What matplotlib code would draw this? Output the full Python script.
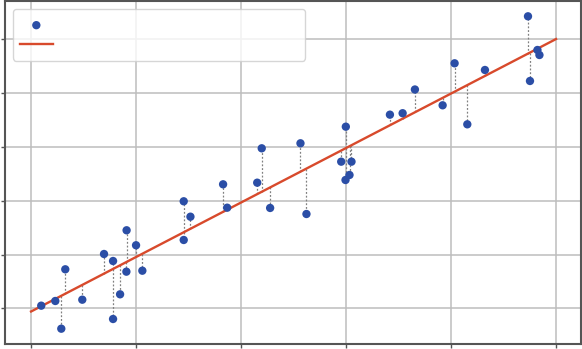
import matplotlib
matplotlib.use("Agg")
import matplotlib.pyplot as plt
import numpy as np

# data
x_vals = [0.097, 0.231, 0.288, 0.326, 0.488, 0.695, 0.781, 0.781, 0.848, 0.908,
          0.910, 1.000, 1.060, 1.454, 1.454, 1.518, 1.829, 1.868, 2.154, 2.197,
          2.277, 2.566, 2.623, 2.954, 2.998, 2.995, 3.033, 3.052, 3.418, 3.539,
          3.656, 3.920, 4.034, 4.155, 4.323, 4.733, 4.752, 4.823, 4.842]
y_vals = [0.052, 0.139, -0.375, 0.727, 0.163, 1.011, 0.881, -0.195, 0.263, 0.683,
          1.451, 1.173, 0.701, 1.989, 1.271, 1.703, 2.304, 1.870, 2.334, 2.972,
          1.865, 3.065, 1.753, 2.724, 3.373, 2.384, 2.477, 2.724, 3.596, 3.623,
          4.063, 3.770, 4.549, 3.417, 4.425, 5.421, 4.221, 4.796, 4.703]
fit_intercept = -0.056
fit_slope = 1.011
line_x = [0.0, 5.0]
tick_vals = [0, 1, 2, 3, 4, 5]

W, H = 582, 349
fig = plt.figure(figsize=(W / 100, H / 100), dpi=100)
ax = fig.add_axes([4.7 / W, 1 - 344 / H, (580.7 - 4.7) / W, (344 - 1) / H])

xv = np.array(x_vals)
yv = np.array(y_vals)
fitted = fit_intercept + fit_slope * xv

ax.vlines(xv, fitted, yv, colors="#808080", linestyles=(0, (1.5, 1.5)), linewidth=0.9, zorder=2)
lx = np.array(line_x)
ax.plot(lx, fit_intercept + fit_slope * lx, color="#d84a2c", linewidth=1.7, zorder=3, label=" ")
ax.scatter(xv, yv, s=36, color="#2b4ea6", zorder=4, label=" ", edgecolors="none")

ax.set_xlim(-0.251, 5.235)
ax.set_ylim(-0.659, 5.705)
ax.set_xticks(tick_vals)
ax.set_yticks(tick_vals)
ax.tick_params(labelleft=False, labelbottom=False, length=3, width=1, color="#555555")
ax.grid(True, color="#bdbdbd", linewidth=1.1)
ax.set_axisbelow(True)
for s in ax.spines.values():
    s.set_color("#555555")
    s.set_linewidth(1.5)

handles, labels = ax.get_legend_handles_labels()
order = [1, 0]
leg = ax.legend([handles[i] for i in order], [labels[i] for i in order],
                loc="upper left", bbox_to_anchor=(0.0144, 0.977, 0.507, 0.0),
                mode="expand", fontsize=12, borderaxespad=0, labelspacing=0.15,
                frameon=True, fancybox=True, edgecolor="#cccccc", framealpha=0.8)
leg.get_frame().set_linewidth(1.0)

fig.savefig("out.png", dpi=100)
